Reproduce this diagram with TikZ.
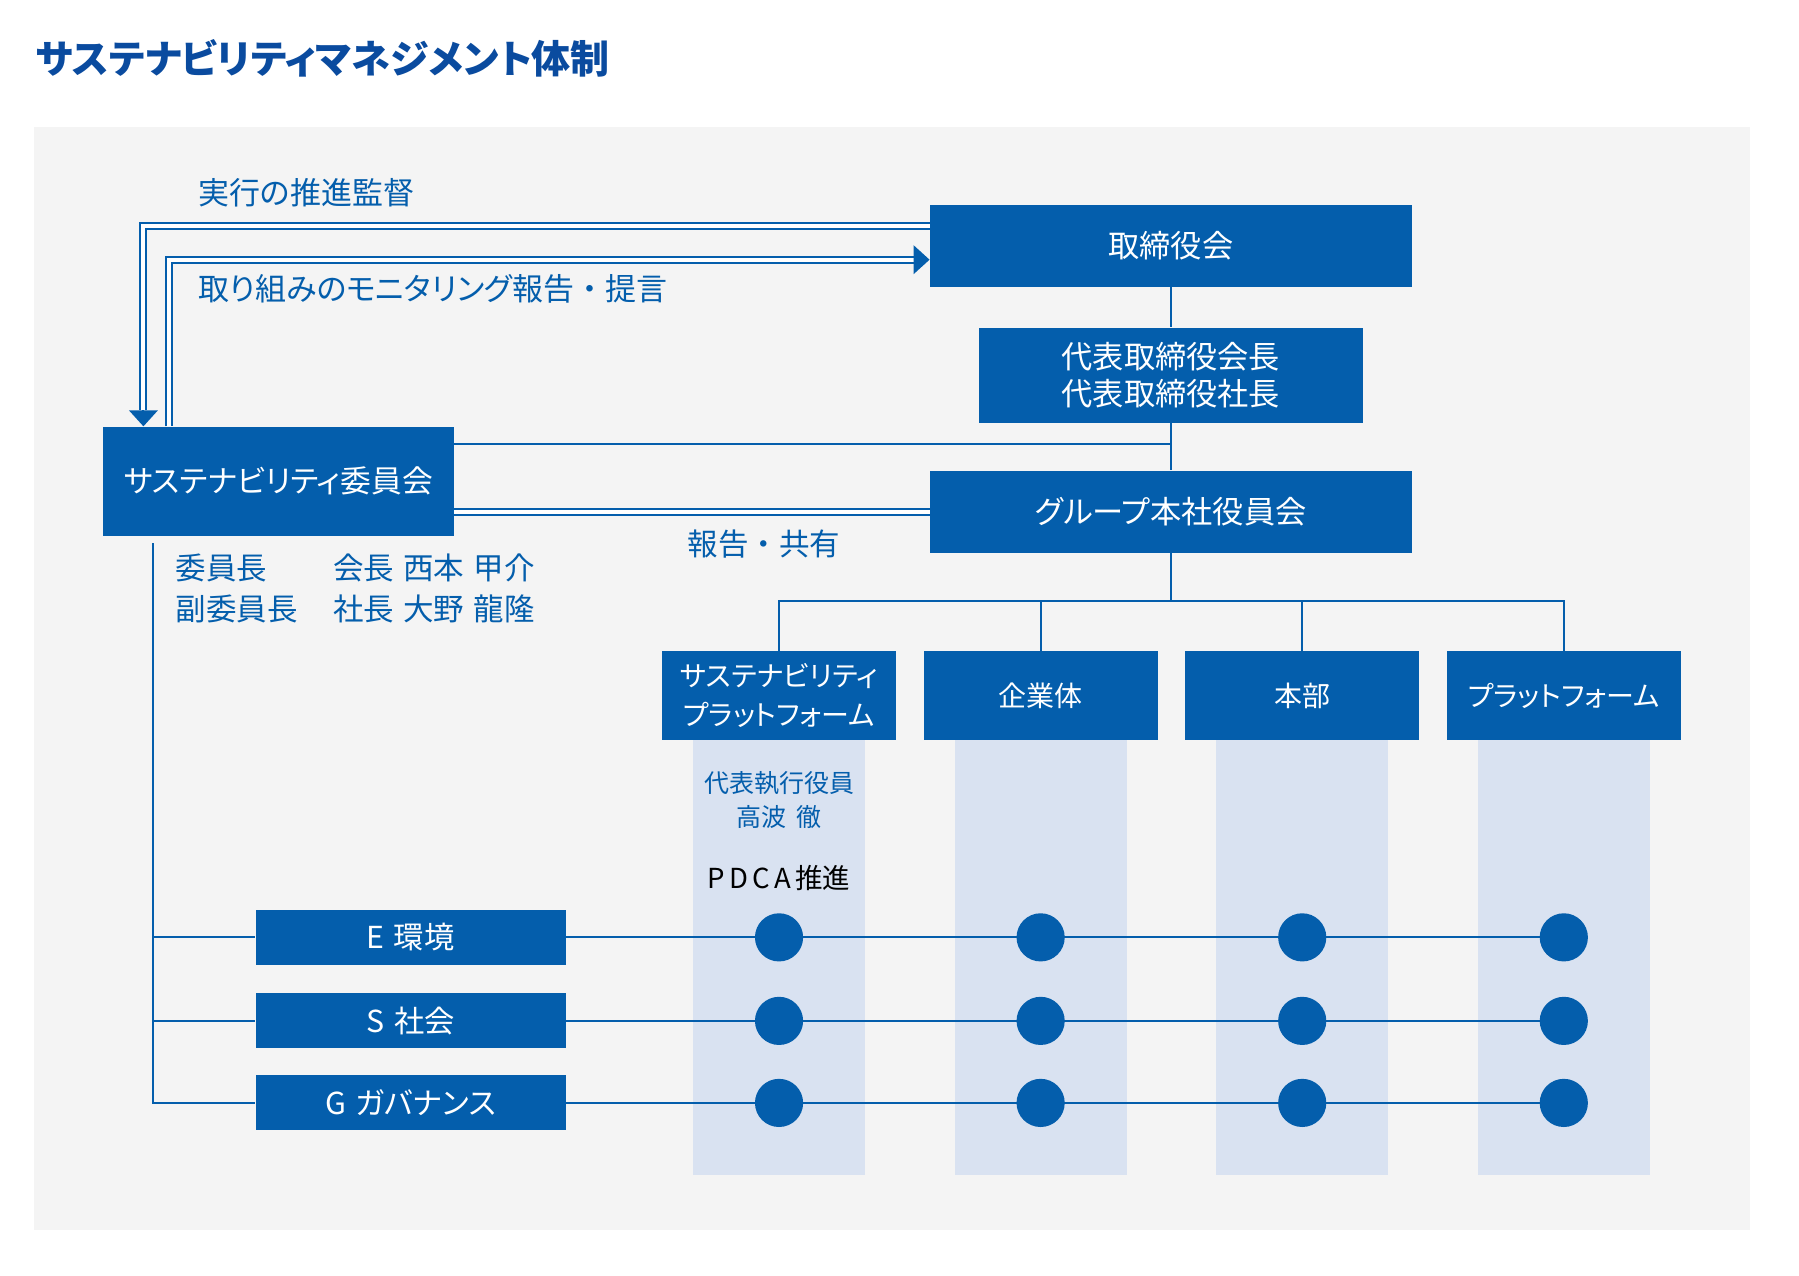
\documentclass[tikz,border=0pt]{standalone}
\usepackage{fontspec}
\setmainfont{Noto Sans CJK JP}[RawFeature=+palt]
\newfontfamily\fullwidth{Noto Sans CJK JP}
\usetikzlibrary{arrows.meta}
\definecolor{sblue}{HTML}{045EAC}
\definecolor{stitle}{HTML}{0A4B9F}
\definecolor{sgray}{HTML}{F4F4F4}
\definecolor{scol}{HTML}{D9E2F1}
\newcommand{\fsz}[2]{\fontsize{#1}{#2}\selectfont}
\newcommand{\wsp}{\hspace{4pt}}
\newcommand{\nakaguro}{{\fullwidth ・}}

\begin{document}
\begin{tikzpicture}[x=0.5pt,y=-0.5pt,
    box/.style={fill=sblue, text=white, inner sep=0pt, align=center},
    link/.style={draw=sblue, line width=0.85pt},
    dbl/.style={draw=sblue, line width=0.85pt, double=white, double distance=1.75pt},
    tip/.style={draw=sblue, line width=0.85pt, -{Triangle[length=7pt,width=12.5pt]}},
    dot/.style={circle, fill=sblue, minimum size=21pt, inner sep=0pt},
    lbl/.style={text=sblue, inner sep=0pt}]
    \useasboundingbox (0,0) rectangle (1568,1111.3);
    \fill[white] (0,0) rectangle (1568,1111.3);
    \fill[sgray] (30,111) rectangle (1525.3,1072);
    \fill[scol] (604,645) rectangle (754,1024);
    \fill[scol] (832,645) rectangle (982,1024);
    \fill[scol] (1060,645) rectangle (1210,1024);
    \fill[scol] (1288,645) rectangle (1438,1024);

    \node[anchor=west, inner sep=0pt, text=stitle, font=\fsz{17}{20}\bfseries] (title) at (31,50.7) {サステナビリティマネジメント体制};

    \node[box, minimum width=210pt, minimum height=35.75pt, font=\fsz{13.6}{16}] (board) at (1020.6,214.4) {取締役会};
    \node[box, minimum width=167.75pt, minimum height=41.5pt, font=\fsz{13.6}{16.5}] (ceo) at (1020.6,327) {代表取締役会長\\代表取締役社長};
    \node[box, minimum width=210pt, minimum height=35.75pt, font=\fsz{13.6}{16}] (group) at (1020.6,446) {グループ本社役員会};
    \node[box, minimum width=153pt, minimum height=47.5pt, font=\fsz{13.4}{16}] (comm) at (242.7,419.5) {サステナビリティ委員会};

    \node[box, minimum width=102pt, minimum height=38.75pt, font=\fsz{12.2}{17}] (splat) at (679,606.5) {サステナビリティ\\プラットフォーム};
    \node[box, minimum width=102pt, minimum height=38.75pt, font=\fsz{12.2}{17}] (biz) at (907,606.5) {企業体};
    \node[box, minimum width=102pt, minimum height=38.75pt, font=\fsz{12.2}{17}] (hq) at (1135,606.5) {本部};
    \node[box, minimum width=102pt, minimum height=38.75pt, font=\fsz{12.2}{17}] (plat) at (1363,606.5) {プラットフォーム};

    \node[box, minimum width=135pt, minimum height=24pt, font=\fsz{13.2}{15}] (env) at (358,817) {E\wsp 環境};
    \node[box, minimum width=135pt, minimum height=24pt, font=\fsz{13.2}{15}] (soc) at (358,889.8) {S\wsp 社会};
    \node[box, minimum width=135pt, minimum height=24pt, font=\fsz{13.2}{15}] (gov) at (358,961.3) {G\wsp ガバナンス};

    \node[lbl, anchor=west, font=\fsz{13.5}{16}] (exec) at (172.6,168) {実行の推進監督};
    \node[lbl, anchor=west, font=\fsz{13.5}{16}] (monitor) at (172.6,251.7) {取り組みのモニタリング報告\nakaguro 提言};
    \node[lbl, font=\fsz{13.3}{16}] (share) at (666,474) {報告\nakaguro 共有};
    \node[lbl, anchor=west, align=left, font=\fsz{13.3}{17.8}] (roles) at (152.6,513.2) {委員長\\副委員長};
    \node[lbl, anchor=west, align=left, font=\fsz{13.3}{17.8}] (names) at (290,513.2) {会長\wsp 西本\wsp 甲介\\社長\wsp 大野\wsp 龍隆};
    \node[lbl, align=center, font=\fsz{10.9}{14.8}] (officer) at (679,697) {代表執行役員\\高波\wsp 徹};
    \node[inner sep=0pt, font=\fsz{12}{14}] (pdca) at (679,765) {P\kern1.8pt D\kern1.8pt C\kern1.8pt A\kern2pt 推進};

    \draw[link] (board) -- (ceo);
    \draw[link] (ceo) -- (group);
    \coordinate (c1) at ([yshift=-7.85pt]comm.north east);
    \draw[link] (c1) -- (c1 -| ceo.south);
    \draw[dbl] (group.west) -- (group.west -| comm.east);

    \coordinate (down) at ([xshift=17.85pt]comm.north west);
    \coordinate (up) at ([xshift=29.15pt]comm.north west);
    \coordinate (a1) at ([yshift=-9.3pt]board.north west);
    \coordinate (a2) at ([yshift=-24.05pt]board.north west);
    \draw[dbl] (a1) -| ([yshift=7pt]down);
    \draw[tip] ([yshift=7pt]down) -- (down);
    \draw[dbl] (up) |- ([xshift=-7pt]a2);
    \draw[tip] ([xshift=-7pt]a2) -- (a2);

    \coordinate (bus) at ([yshift=-21pt]group.south);
    \draw[link] (group.south) -- (bus);
    \draw[link] (splat.north) |- (bus -| plat.north) -- (plat.north);
    \draw[link] (biz.north) -- (biz.north |- bus);
    \draw[link] (hq.north) -- (hq.north |- bus);

    \coordinate (spine) at ([xshift=22.2pt,yshift=-3pt]comm.south west);
    \draw[link] (spine) |- (gov.west);
    \draw[link] (env.west -| spine) -- (env.west);
    \draw[link] (soc.west -| spine) -- (soc.west);

    \draw[link] (env.east) -- (env.east -| plat.south);
    \draw[link] (soc.east) -- (soc.east -| plat.south);
    \draw[link] (gov.east) -- (gov.east -| plat.south);

    \node[dot] (e1) at (env -| splat) {};
    \node[dot] (e2) at (env -| biz) {};
    \node[dot] (e3) at (env -| hq) {};
    \node[dot] (e4) at (env -| plat) {};
    \node[dot] (s1) at (soc -| splat) {};
    \node[dot] (s2) at (soc -| biz) {};
    \node[dot] (s3) at (soc -| hq) {};
    \node[dot] (s4) at (soc -| plat) {};
    \node[dot] (g1) at (gov -| splat) {};
    \node[dot] (g2) at (gov -| biz) {};
    \node[dot] (g3) at (gov -| hq) {};
    \node[dot] (g4) at (gov -| plat) {};
\end{tikzpicture}
\end{document}
